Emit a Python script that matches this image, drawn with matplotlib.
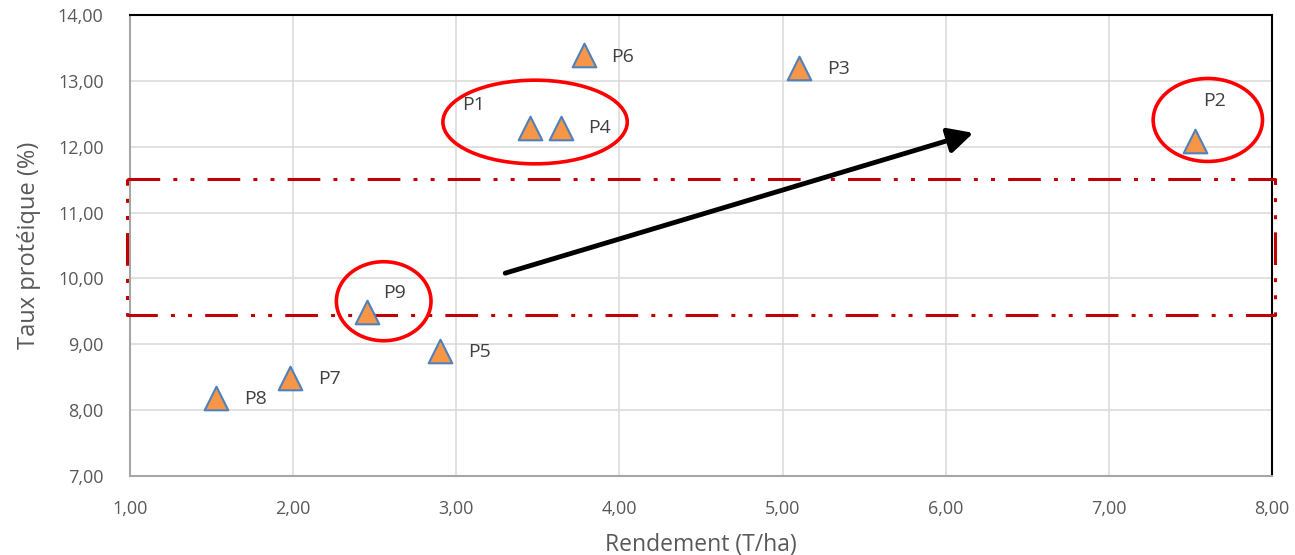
import matplotlib.pyplot as plt
from matplotlib.patches import Ellipse
from matplotlib.ticker import FuncFormatter, MultipleLocator

plt.rcParams["font.family"] = ["Open Sans", "DejaVu Sans"]

# ── Data ─────────────────────────────────────────────────────────────────────
names = ["P1", "P2", "P3", "P4", "P5", "P6", "P7", "P8", "P9"]
rendement = [3.45, 7.53, 5.10, 3.64, 2.90, 3.78, 1.98, 1.53, 2.45]
proteine = [12.29, 12.09, 13.20, 12.29, 8.90, 13.39, 8.49, 8.19, 9.49]

# target band for protein content
band_low, band_high = 9.445, 11.505

# highlighted groups: (centre x, centre y, width, height)
circles = [(3.483, 12.375, 1.13, 1.27), (7.607, 12.406, 0.67, 1.26), (2.555, 9.654, 0.58, 1.20)]

# trend arrow
arrow_start = (3.30, 10.08)
arrow_end = (6.17, 12.21)

# label offsets in points
offsets = {"P1": (-49, 16), "P2": (6, 29), "P9": (12, 14), "P4": (20, 0)}

TEXT = "#595959"
RED = "#c00000"

fig = plt.figure(figsize=(12.95, 5.55), dpi=100)
ax = fig.add_axes([0.1004, 0.1423, 0.8818, 0.8307])

ax.set_xlim(1, 8)
ax.set_ylim(7, 14)
ax.xaxis.set_major_locator(MultipleLocator(1))
ax.yaxis.set_major_locator(MultipleLocator(1))
fmt = FuncFormatter(lambda v, _: f"{v:.2f}".replace(".", ","))
ax.xaxis.set_major_formatter(fmt)
ax.yaxis.set_major_formatter(fmt)
ax.tick_params(length=0, labelsize=13, labelcolor=TEXT)
ax.tick_params(axis="x", pad=17)
ax.tick_params(axis="y", pad=19)
ax.grid(True, color="#d9d9d9", lw=1.1)
ax.set_axisbelow(True)

for side in ("left", "bottom"):
    ax.spines[side].set_color("#a6a6a6")
    ax.spines[side].set_linewidth(1.5)
for side in ("top", "right"):
    ax.spines[side].set_color("black")
    ax.spines[side].set_linewidth(1.5)

ax.set_xlabel("Rendement (T/ha)", fontsize=16.5, color=TEXT, labelpad=11)
ax.set_ylabel("Taux protéique (%)", fontsize=17, color=TEXT, labelpad=12)

# dash-dot-dot target band
ls = (0, (10.7, 4.3, 1.3, 4.3, 1.3, 4.3))
bx = [0.98, 8.02, 8.02, 0.98, 0.98]
by = [band_high, band_high, band_low, band_low, band_high]
ax.plot(bx, by, color=RED, lw=2.2, linestyle=ls, clip_on=False, zorder=3)

# points
ax.scatter(rendement, proteine, marker="^", s=17 ** 2, facecolor="#f79646",
           edgecolor="#4f81bd", linewidth=1.5, zorder=5)

for n, x, y in zip(names, rendement, proteine):
    dx, dy = offsets.get(n, (20, -1))
    ax.annotate(n, (x, y), xytext=(dx, dy), textcoords="offset points",
                ha="left", va="center", fontsize=14, color="#404040", zorder=6)

for cx, cy, w, h in circles:
    ax.add_patch(Ellipse((cx, cy), w, h, fill=False, edgecolor="#ff0000", lw=2.6, zorder=6))

ax.annotate("", xy=arrow_end, xytext=arrow_start,
            arrowprops=dict(arrowstyle="-|>,head_length=0.75,head_width=0.38",
                            color="black", lw=3.5, shrinkA=0, shrinkB=0,
                            mutation_scale=20),
            zorder=7)

fig.savefig("out.png", dpi=100)
